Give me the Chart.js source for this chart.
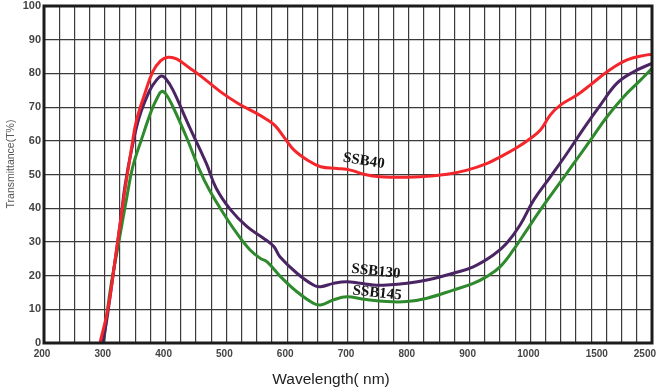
<!DOCTYPE html>
<html>
<head>
<meta charset="utf-8">
<title>Transmittance</title>
<script src="https://cdn.jsdelivr.net/npm/chart.js@4.4.0/dist/chart.umd.min.js"></script>
<style>
    html, body { margin: 0; padding: 0; background: #fff; }
    #wrap { width: 660px; height: 390px; }
</style>
</head>
<body>
<div id="wrap"><canvas id="chart" width="660" height="390"></canvas></div>
<script>
// tick labels
const xTickLabels = [200, 300, 400, 500, 600, 700, 800, 900, 1000, 1500, 2500];
const yTickValues = [0, 10, 20, 30, 40, 50, 60, 70, 80, 90, 100];

// SSB40 (red)
const ssb40Wave = [292, 305, 318, 332, 345, 352, 366, 379, 392, 404, 418, 440, 458, 490, 520, 546, 565, 580, 595, 611, 633, 655, 682, 704, 726, 753, 781, 819, 863, 896, 929, 951, 976, 1000, 1073, 1146, 1219, 1341, 1439, 1657, 2031, 2409, 2500];
const ssb40Trans = [0, 10, 26, 44, 59, 66, 74.1, 80.5, 83.8, 84.8, 84.3, 81.5, 79.2, 74.6, 71, 68.5, 66.5, 64.5, 61, 57.3, 54.3, 52.3, 51.8, 51.3, 50.1, 49.3, 49.2, 49.3, 50.1, 51.3, 53.3, 55.3, 57.8, 60.7, 63.2, 67.7, 70.6, 73.6, 76.6, 80.5, 84, 85.5, 85.6];

// SSB130 (purple)
const ssb130Wave = [297, 305, 315, 327, 333, 344, 357, 374, 385, 393, 400, 412, 439, 467, 483, 507, 534, 561, 578, 588, 616, 643, 655, 676, 698, 720, 742, 764, 797, 830, 873, 906, 939, 961, 983, 1024, 1146, 1268, 1390, 1529, 1843, 2157, 2500];
const ssb130Trans = [0, 9, 22, 37.7, 46.4, 57.3, 67.2, 75, 78, 79.2, 78.5, 75.1, 64.2, 53.3, 46, 39.5, 34.5, 31.1, 28.6, 25.6, 20.7, 17.2, 16.7, 17.7, 18.2, 17.7, 17.2, 17.2, 17.7, 18.7, 20.7, 22.6, 26.1, 29.6, 35, 42.4, 49.3, 56.3, 63.7, 70.6, 77.1, 80.5, 83];

// SSB145 (green)
const ssb145Wave = [298, 302, 310, 321, 336, 346, 360, 377, 387, 393, 400, 412, 434, 456, 472, 495, 517, 539, 556, 567, 589, 616, 643, 655, 676, 698, 726, 764, 797, 830, 873, 906, 928, 950, 972, 994, 1073, 1195, 1317, 1439, 1657, 1969, 2283, 2500];
const ssb145Trans = [0, 6.2, 16.9, 27.9, 43, 52.3, 60.2, 69.1, 73, 74.6, 74, 70.1, 61.2, 51.3, 45.4, 38.5, 32.6, 27.6, 25.1, 24.1, 19.7, 15.2, 11.8, 11.3, 12.8, 13.7, 13, 12.3, 12.3, 13.3, 15.7, 17.7, 19.7, 22.6, 27.6, 33.5, 39.5, 46.4, 53.3, 60.2, 67.2, 73.1, 78, 81.5];

const seriesNames = ['SSB40', 'SSB130', 'SSB145'];

// the wavelength axis is broken after 1000 nm: 25 nm per grid cell up to 1000,
// then 1000-1500 in 4.5 cells and 1500-2500 in 3.5 cells
function toAxis(nm) {
    if (nm <= 1000) return (nm - 200) / 25;
    if (nm <= 1500) return 32 + (nm - 1000) / 500 * 4.5;
    return 36.5 + (nm - 1500) / 1000 * 3.5;
}

function toPoints(waves, trans) {
    return waves.map((w, i) => ({ x: toAxis(w), y: trans[i] }));
}

// where the series names sit (in data units) and their tilt
const nameAnchors = [
    { nm: 726, t: 54, angle: 9 },
    { nm: 746, t: 21.2, angle: 6 },
    { nm: 748, t: 14.8, angle: 6 }
];

const decorPlugin = {
    id: 'decor',
    afterDatasetsDraw(chart) {
        const { ctx, chartArea: a, scales } = chart;
        const x = scales.x;
        const y = scales.y;
        ctx.save();

        // heavy frame
        ctx.strokeStyle = '#1c1c1c';
        ctx.lineWidth = 3;
        ctx.strokeRect(a.left, a.top, a.right - a.left, a.bottom - a.top);

        // y tick labels
        ctx.fillStyle = '#444';
        ctx.font = 'bold 11px "Liberation Sans", Arial, sans-serif';
        ctx.textAlign = 'right';
        ctx.textBaseline = 'middle';
        yTickValues.forEach(v => ctx.fillText(String(v), a.left - 3, y.getPixelForValue(v)));

        // x tick labels
        ctx.font = 'bold 10px "Liberation Sans", Arial, sans-serif';
        ctx.textAlign = 'center';
        xTickLabels.forEach(v => {
            const half = ctx.measureText(String(v)).width / 2;
            let px = x.getPixelForValue(toAxis(v)) - 2;
            px = Math.min(px, chart.width - 4 - half);
            ctx.fillText(String(v), px, a.bottom + 11);
        });

        // axis titles
        ctx.fillStyle = '#555';
        ctx.font = '10.5px "Liberation Sans", Arial, sans-serif';
        ctx.save();
        ctx.translate(11, 164);
        ctx.rotate(-Math.PI / 2);
        ctx.fillText('Transmittance(T%)', 0, 0);
        ctx.restore();

        ctx.fillStyle = '#222';
        ctx.font = '15.5px "Liberation Sans", Arial, sans-serif';
        ctx.fillText('Wavelength( nm)', 331, 380);

        // series names on the curves
        ctx.fillStyle = '#151515';
        ctx.font = 'bold 15px "Liberation Serif", "Times New Roman", serif';
        nameAnchors.forEach((n, i) => {
            ctx.save();
            ctx.translate(x.getPixelForValue(toAxis(n.nm)), y.getPixelForValue(n.t));
            ctx.rotate(n.angle * Math.PI / 180);
            ctx.fillText(seriesNames[i], 0, 0);
            ctx.restore();
        });

        ctx.restore();
    }
};

document.addEventListener('DOMContentLoaded', function () {
    const lineStyle = {
        borderWidth: 3,
        pointRadius: 0,
        fill: false,
        tension: 0.4
    };

    new Chart(document.getElementById('chart').getContext('2d'), {
        type: 'line',
        data: {
            datasets: [
                { label: seriesNames[0], data: toPoints(ssb40Wave, ssb40Trans), borderColor: '#f5262b', ...lineStyle },
                { label: seriesNames[1], data: toPoints(ssb130Wave, ssb130Trans), borderColor: '#4a2463', ...lineStyle },
                { label: seriesNames[2], data: toPoints(ssb145Wave, ssb145Trans), borderColor: '#2e8a2c', ...lineStyle }
            ]
        },
        options: {
            responsive: false,
            animation: false,
            layout: { padding: { left: 44, right: 8, top: 6, bottom: 47 } },
            plugins: {
                legend: { display: false },
                tooltip: { enabled: false }
            },
            scales: {
                x: {
                    type: 'linear',
                    min: 0,
                    max: 40,
                    afterBuildTicks: scale => {
                        scale.ticks = [];
                        for (let i = 0; i <= 40; i++) scale.ticks.push({ value: i });
                    },
                    ticks: { display: false },
                    grid: { color: '#3a3a3a', lineWidth: 1.2, drawTicks: false },
                    border: { display: false }
                },
                y: {
                    min: 0,
                    max: 100,
                    ticks: { display: false, stepSize: 10 },
                    grid: { color: '#3a3a3a', lineWidth: 1.2, drawTicks: false },
                    border: { display: false }
                }
            }
        },
        plugins: [decorPlugin]
    });
});
</script>
</body>
</html>
